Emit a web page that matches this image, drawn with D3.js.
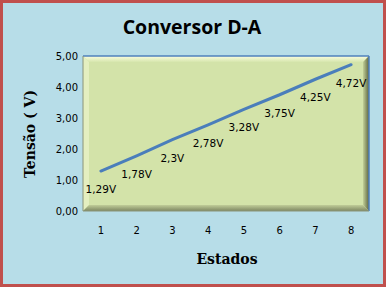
<!DOCTYPE html>
<html>
<head>
<meta charset="utf-8">
<script src="https://cdn.jsdelivr.net/npm/d3@7"></script>
<style>
  body { margin: 0; background: #fff; }
  svg text { font-family: "DejaVu Sans", sans-serif; }
</style>
</head>
<body>
<div id="chart"></div>
<script>
const estados = [1, 2, 3, 4, 5, 6, 7, 8];
const tensoes = [1.29, 1.78, 2.3, 2.78, 3.28, 3.75, 4.25, 4.72];
const rotulos = ["1,29V", "1,78V", "2,3V", "2,78V", "3,28V", "3,75V", "4,25V", "4,72V"];
const yTicks = [0, 1, 2, 3, 4, 5];

const W = 387, H = 288;
const margin = { top: 56, right: 18, bottom: 77, left: 83 };
const width = W - margin.left - margin.right;
const height = H - margin.top - margin.bottom;

const svg = d3.select('#chart')
    .append('svg')
    .attr('width', W)
    .attr('height', H);

const defs = svg.append('defs');
const gTop = defs.append('linearGradient').attr('id', 'bevTop').attr('x1', 0).attr('y1', 0).attr('x2', 0).attr('y2', 1);
gTop.append('stop').attr('offset', 0).attr('stop-color', '#fbfde0');
gTop.append('stop').attr('offset', 1).attr('stop-color', '#d6e6ad');
const gRight = defs.append('linearGradient').attr('id', 'bevRight').attr('x1', 0).attr('y1', 0).attr('x2', 1).attr('y2', 0);
gRight.append('stop').attr('offset', 0).attr('stop-color', '#c2d098');
gRight.append('stop').attr('offset', 1).attr('stop-color', '#5c6440');
const gBottom = defs.append('linearGradient').attr('id', 'bevBottom').attr('x1', 0).attr('y1', 0).attr('x2', 0).attr('y2', 1);
gBottom.append('stop').attr('offset', 0).attr('stop-color', '#c0cd98');
gBottom.append('stop').attr('offset', 1).attr('stop-color', '#7e8862');

// chart background with red frame
svg.append('rect')
    .attr('x', 1.5).attr('y', 1.5)
    .attr('width', W - 4).attr('height', H - 4)
    .attr('fill', '#b7dde8')
    .attr('stroke', '#c0504d')
    .attr('stroke-width', 3);

const g = svg.append('g')
    .attr('transform', `translate(${margin.left}, ${margin.top})`);

const x = d3.scaleBand()
    .domain(estados)
    .range([0, width]);

const y = d3.scaleLinear()
    .domain([0, 5])
    .range([height, 0]);

// plot area with bevel
const b = 6;
g.append('rect').attr('width', width).attr('height', height).attr('fill', '#d3e3a9');
g.append('polygon')
    .attr('points', `0,0 ${width},0 ${width - b},${b} ${b},${b}`)
    .attr('fill', 'url(#bevTop)');
g.append('polygon')
    .attr('points', `0,0 ${b},${b} ${b},${height - b} 0,${height}`)
    .attr('fill', '#e4efc0');
g.append('polygon')
    .attr('points', `${width},0 ${width},${height} ${width - b},${height - b} ${width - b},${b}`)
    .attr('fill', 'url(#bevRight)');
g.append('polygon')
    .attr('points', `0,${height} ${width},${height} ${width - b},${height - b} ${b},${height - b}`)
    .attr('fill', 'url(#bevBottom)');
g.append('line').attr('x1', 0).attr('x2', width).attr('y1', 0).attr('y2', 0)
    .attr('stroke', '#4f81bd').attr('stroke-width', 1.5);
g.append('line').attr('x1', width).attr('x2', width).attr('y1', 0).attr('y2', height)
    .attr('stroke', '#4f81bd').attr('stroke-width', 1.5);
g.append('line').attr('x1', 0).attr('x2', 0).attr('y1', 0).attr('y2', height)
    .attr('stroke', '#8a9478').attr('stroke-width', 1);
g.append('line').attr('x1', 0).attr('x2', width).attr('y1', height).attr('y2', height)
    .attr('stroke', '#8a9478').attr('stroke-width', 1);

// axes
const fmt = d => d.toFixed(2).replace('.', ',');
g.append('g')
    .attr('class', 'y-axis')
    .call(d3.axisLeft(y).tickValues(yTicks).tickFormat(fmt).tickSize(0).tickPadding(5))
    .call(s => s.select('.domain').remove())
    .selectAll('text')
    .style('font-size', '10px')
    .attr('fill', '#000');

g.append('g')
    .attr('class', 'x-axis')
    .attr('transform', `translate(0, ${height})`)
    .call(d3.axisBottom(x).tickSize(0).tickPadding(16))
    .call(s => s.select('.domain').remove())
    .selectAll('text')
    .style('font-size', '10px')
    .attr('fill', '#000');

// line
const cx = d => x(d) + x.bandwidth() / 2;
const line = d3.line()
    .x((d, i) => cx(estados[i]))
    .y(d => y(d));

g.append('path')
    .datum(tensoes)
    .attr('d', line)
    .attr('fill', 'none')
    .attr('stroke', '#4a7ebb')
    .attr('stroke-width', 3)
    .attr('stroke-linecap', 'round');

g.selectAll('.lbl')
    .data(tensoes)
    .enter()
    .append('text')
    .attr('class', 'lbl')
    .attr('x', (d, i) => cx(estados[i]))
    .attr('y', d => y(d) + 22)
    .style('text-anchor', 'middle')
    .style('font-size', '10.5px')
    .text((d, i) => rotulos[i]);

// titles
svg.append('text')
    .attr('x', 192)
    .attr('y', 34)
    .style('text-anchor', 'middle')
    .style('font-family', '"Open Sans", sans-serif')
    .style('font-weight', 'bold')
    .style('font-size', '19.5px')
    .text('Conversor D-A');

svg.append('text')
    .attr('x', 227)
    .attr('y', 264)
    .style('text-anchor', 'middle')
    .style('font-family', '"DejaVu Serif", serif')
    .style('font-weight', 'bold')
    .style('font-size', '14px')
    .text('Estados');

svg.append('text')
    .attr('transform', 'translate(35, 134) rotate(-90)')
    .style('text-anchor', 'middle')
    .style('font-family', '"DejaVu Serif", serif')
    .style('font-weight', 'bold')
    .style('font-size', '14px')
    .text('Tensão ( V)');
</script>
</body>
</html>
